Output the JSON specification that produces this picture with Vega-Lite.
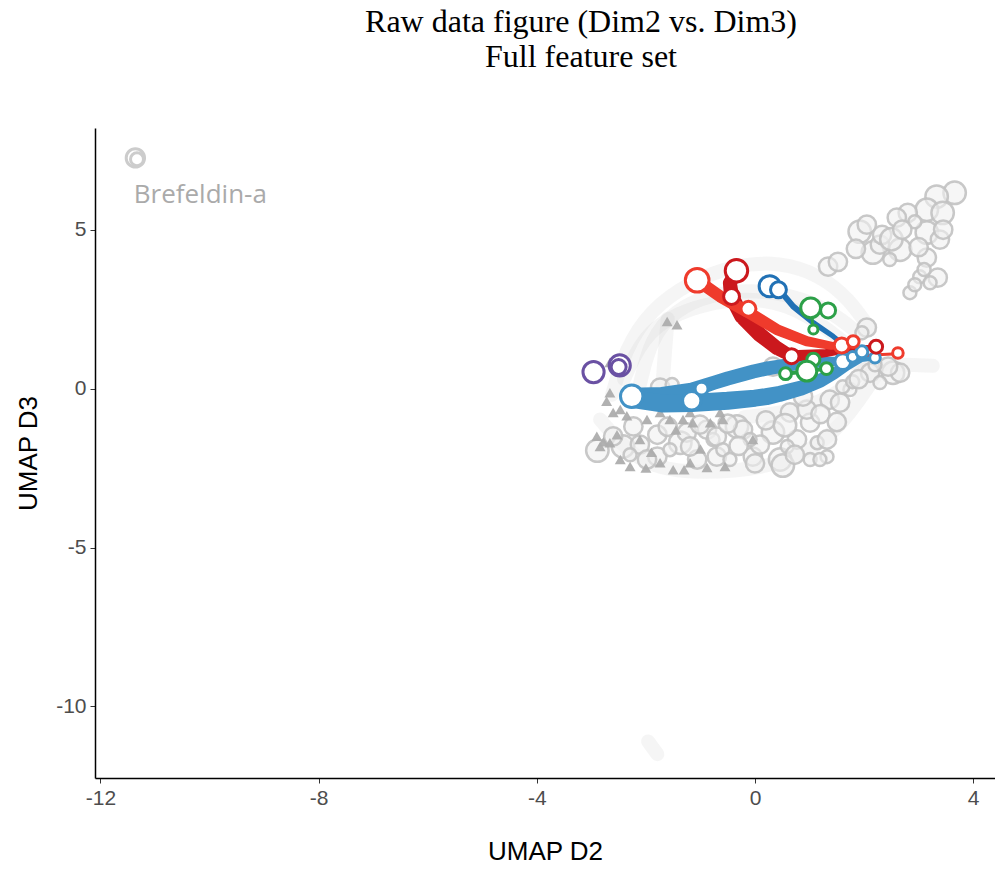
{
  "$schema": "https://vega.github.io/schema/vega-lite/v6.json",
  "width": 900,
  "height": 650,
  "autosize": {"type": "none"},
  "padding": {"left": 95, "top": 128, "right": 0, "bottom": 91},
  "background": "white",
  "title": {
    "text": ["Raw data figure (Dim2 vs. Dim3)", "Full feature set"],
    "font": "Liberation Serif",
    "fontSize": 32,
    "fontWeight": "normal",
    "color": "#000000",
    "lineHeight": 35,
    "anchor": "middle",
    "frame": "group",
    "dx": 36,
    "offset": 54
  },
  "config": {
    "view": {"stroke": null},
    "axis": {"grid": false, "labelFont": "Liberation Sans", "titleFont": "Liberation Sans"}
  },
  "datasets": {
    "arcs": [
      {"path": "A1", "i": 1, "x": -2.62, "y": -0.19},
      {"path": "A1", "i": 2, "x": -2.38, "y": 1.23},
      {"path": "A1", "i": 3, "x": -1.92, "y": 2.48},
      {"path": "A1", "i": 4, "x": -1.19, "y": 3.36},
      {"path": "A1", "i": 5, "x": -0.37, "y": 3.9},
      {"path": "A1", "i": 6, "x": 0.46, "y": 3.99},
      {"path": "A1", "i": 7, "x": 1.19, "y": 3.58},
      {"path": "A1", "i": 8, "x": 1.74, "y": 2.8},
      {"path": "A1", "i": 9, "x": 2.11, "y": 1.86},
      {"path": "A2", "i": 1, "x": -2.11, "y": 0.13},
      {"path": "A2", "i": 2, "x": -1.92, "y": 1.54},
      {"path": "A2", "i": 3, "x": -1.47, "y": 2.48},
      {"path": "A2", "i": 4, "x": -0.82, "y": 2.96},
      {"path": "A2", "i": 5, "x": -0.09, "y": 3.11},
      {"path": "A2", "i": 6, "x": 0.64, "y": 2.96},
      {"path": "A2", "i": 7, "x": 1.37, "y": 2.48},
      {"path": "A2", "i": 8, "x": 1.92, "y": 1.7},
      {"path": "A3", "i": 1, "x": -2.84, "y": -0.97},
      {"path": "A3", "i": 2, "x": -2.11, "y": -2.45},
      {"path": "A3", "i": 3, "x": -1.01, "y": -2.7},
      {"path": "A3", "i": 4, "x": 0.46, "y": -2.45},
      {"path": "A3", "i": 5, "x": 1.37, "y": -1.6},
      {"path": "A3", "i": 6, "x": 1.92, "y": -0.35},
      {"path": "A3", "i": 7, "x": 2.29, "y": 0.6},
      {"path": "A4", "i": 1, "x": 1.8, "y": 0.8},
      {"path": "A4", "i": 2, "x": 2.4, "y": 0.78},
      {"path": "A4", "i": 3, "x": 3.26, "y": 0.72},
      {"path": "A5", "i": 1, "x": -1.7, "y": 0.0},
      {"path": "A5", "i": 2, "x": -1.65, "y": 1.2},
      {"path": "A5", "i": 3, "x": -1.6, "y": 2.2},
      {"path": "A6", "i": 1, "x": -1.96, "y": -11.1},
      {"path": "A6", "i": 2, "x": -1.79, "y": -11.5},
      {"path": "A7", "i": 1, "x": -2.4, "y": 0.3},
      {"path": "A7", "i": 2, "x": -2.0, "y": 1.9},
      {"path": "A7", "i": 3, "x": -1.0, "y": 2.7},
      {"path": "A7", "i": 4, "x": 0.2, "y": 2.9},
      {"path": "A7", "i": 5, "x": 1.0, "y": 2.3},
      {"path": "A7", "i": 6, "x": 1.6, "y": 1.5},
      {"path": "A8", "i": 1, "x": -0.2, "y": -0.9},
      {"path": "A8", "i": 2, "x": 0.8, "y": -0.7},
      {"path": "A8", "i": 3, "x": 1.6, "y": -0.1},
      {"path": "A8", "i": 4, "x": 2.0, "y": 0.6}
    ],
    "tri": [
      {"x": -2.66, "y": -0.13}, {"x": -2.6, "y": -0.75}, {"x": -2.47, "y": -0.66},
      {"x": -2.78, "y": -1.67}, {"x": -2.84, "y": -1.82}, {"x": -2.66, "y": -1.7},
      {"x": -2.53, "y": -1.45}, {"x": -1.98, "y": -0.97}, {"x": -1.74, "y": -0.75},
      {"x": -1.56, "y": -0.97}, {"x": -1.32, "y": -0.97}, {"x": -1.19, "y": -0.75},
      {"x": -1.14, "y": -1.07}, {"x": -1.5, "y": -2.55}, {"x": -1.74, "y": -2.33},
      {"x": -0.88, "y": -2.48}, {"x": -1.19, "y": -2.33}, {"x": -2.47, "y": -2.23},
      {"x": -2.29, "y": -2.45}, {"x": -0.82, "y": -1.07}, {"x": -0.59, "y": -0.97},
      {"x": -0.64, "y": -0.75}, {"x": -0.04, "y": -1.6}, {"x": -2.11, "y": -1.6},
      {"x": -1.61, "y": 2.11}, {"x": -1.43, "y": 2.01}, {"x": -2.66, "y": 0.82},
      {"x": -1.9, "y": -2.0}, {"x": -1.0, "y": -1.9}, {"x": -2.72, "y": -0.4},
      {"x": -2.35, "y": -0.85}, {"x": -2.0, "y": -2.5}, {"x": -1.3, "y": -2.55},
      {"x": -0.55, "y": -2.45}, {"x": -2.9, "y": -1.5}, {"x": -1.45, "y": -1.3}
    ],
    "grey": [
      {"x": 3.66, "y": 6.16, "n": 9}, {"x": 3.33, "y": 6.04, "n": 9}, {"x": 3.15, "y": 5.63, "n": 9},
      {"x": 3.44, "y": 5.53, "n": 9}, {"x": 2.8, "y": 5.53, "n": 6}, {"x": 2.6, "y": 5.38, "n": 6},
      {"x": 1.92, "y": 4.94, "n": 9}, {"x": 2.05, "y": 5.16, "n": 6}, {"x": 2.16, "y": 4.28, "n": 9},
      {"x": 2.29, "y": 4.53, "n": 6}, {"x": 2.66, "y": 4.37, "n": 9}, {"x": 3.15, "y": 4.91, "n": 9},
      {"x": 3.39, "y": 4.69, "n": 6}, {"x": 3.15, "y": 4.12, "n": 6}, {"x": 2.47, "y": 4.06, "n": 3},
      {"x": 3.35, "y": 3.49, "n": 6}, {"x": 3.02, "y": 3.52, "n": 3}, {"x": 2.84, "y": 3.02, "n": 3},
      {"x": 2.93, "y": 3.27, "n": 3}, {"x": 3.21, "y": 3.33, "n": 3}, {"x": 1.34, "y": 3.84, "n": 6},
      {"x": 1.52, "y": 3.99, "n": 6}, {"x": 2.33, "y": 4.84, "n": 6}, {"x": 2.93, "y": 5.25, "n": 3},
      {"x": 2.5, "y": 4.7, "n": 9}, {"x": 3.0, "y": 4.45, "n": 6}, {"x": 3.45, "y": 5.0, "n": 6},
      {"x": 1.85, "y": 4.4, "n": 6}, {"x": 3.1, "y": 3.75, "n": 3}, {"x": 2.7, "y": 5.0, "n": 6},
      {"x": -1.74, "y": 0.03, "n": 6}, {"x": -1.52, "y": 0.13, "n": 3}, {"x": -2.23, "y": -1.19, "n": 6},
      {"x": -1.79, "y": -1.45, "n": 6}, {"x": -2.42, "y": -1.82, "n": 9}, {"x": -2.11, "y": -1.76, "n": 6},
      {"x": -1.79, "y": -2.14, "n": 6}, {"x": -1.37, "y": -1.7, "n": 9}, {"x": -1.25, "y": -1.38, "n": 6},
      {"x": -1.56, "y": -1.92, "n": 3}, {"x": -0.88, "y": -1.29, "n": 6}, {"x": -0.77, "y": -1.6, "n": 3},
      {"x": -1.06, "y": -2.23, "n": 6}, {"x": -2.29, "y": -2.08, "n": 3}, {"x": -1.98, "y": -2.23, "n": 6},
      {"x": -0.7, "y": -2.14, "n": 6}, {"x": -2.89, "y": -1.95, "n": 9}, {"x": -0.7, "y": -1.51, "n": 6},
      {"x": -0.33, "y": -1.19, "n": 9}, {"x": -0.22, "y": -1.29, "n": 6}, {"x": -0.04, "y": -2.14, "n": 6},
      {"x": 0.33, "y": -1.38, "n": 9}, {"x": 0.46, "y": -2.23, "n": 9}, {"x": 0.51, "y": -2.42, "n": 9},
      {"x": 0.77, "y": -1.6, "n": 6}, {"x": 1.01, "y": -1.07, "n": 6}, {"x": 1.14, "y": -1.7, "n": 3},
      {"x": 1.32, "y": -1.6, "n": 6}, {"x": 1.01, "y": -2.23, "n": 3}, {"x": 1.32, "y": -2.14, "n": 3},
      {"x": 0.64, "y": -0.75, "n": 6}, {"x": 0.95, "y": -0.66, "n": 6}, {"x": 1.37, "y": -0.35, "n": 6},
      {"x": 1.56, "y": -0.44, "n": 6}, {"x": 0.59, "y": -1.82, "n": 3}, {"x": -0.59, "y": -1.92, "n": 3},
      {"x": -0.46, "y": -2.23, "n": 3}, {"x": 0.09, "y": -1.76, "n": 6}, {"x": 0.73, "y": -2.08, "n": 6},
      {"x": 1.19, "y": -2.23, "n": 3}, {"x": 0.88, "y": -0.25, "n": 6}, {"x": 1.74, "y": -0.03, "n": 3},
      {"x": 2.53, "y": 0.5, "n": 9}, {"x": 2.66, "y": 0.5, "n": 6}, {"x": 2.11, "y": 0.5, "n": 6},
      {"x": 2.29, "y": 0.19, "n": 3}, {"x": 1.61, "y": 0.06, "n": 3}, {"x": 1.79, "y": 0.22, "n": 3},
      {"x": 2.05, "y": 1.92, "n": 6}, {"x": 1.96, "y": 1.76, "n": 3}, {"x": 2.44, "y": 0.69, "n": 6},
      {"x": 0.33, "y": 0.69, "n": 6}, {"x": -1.01, "y": -1.13, "n": 6}, {"x": -1.19, "y": -1.82, "n": 6},
      {"x": -0.09, "y": -1.6, "n": 3}, {"x": -2.6, "y": -1.5, "n": 6}, {"x": -1.6, "y": -1.2, "n": 6},
      {"x": -0.5, "y": -1.1, "n": 6}, {"x": 0.2, "y": -1.0, "n": 6}, {"x": 0.55, "y": -1.15, "n": 9},
      {"x": 1.2, "y": -0.8, "n": 6}, {"x": 1.5, "y": -1.05, "n": 6}, {"x": 0.0, "y": -2.35, "n": 6},
      {"x": -0.3, "y": -1.8, "n": 6}, {"x": 1.9, "y": 0.3, "n": 6}, {"x": 2.2, "y": 0.75, "n": 3}
    ],
    "trails": [
      {"path": "b1", "grp": "blueL", "i": 1, "x": -2.26, "y": -0.22, "w": 8},
      {"path": "b1", "grp": "blueL", "i": 2, "x": -1.7, "y": -0.2, "w": 8},
      {"path": "b1", "grp": "blueL", "i": 3, "x": -1.16, "y": -0.05, "w": 7.5},
      {"path": "b1", "grp": "blueL", "i": 4, "x": -0.76, "y": 0.18, "w": 7},
      {"path": "b1", "grp": "blueL", "i": 5, "x": -0.5, "y": 0.32, "w": 7},
      {"path": "b1", "grp": "blueL", "i": 6, "x": -0.03, "y": 0.54, "w": 7},
      {"path": "b1", "grp": "blueL", "i": 7, "x": 0.21, "y": 0.63, "w": 7},
      {"path": "b1", "grp": "blueL", "i": 8, "x": 0.76, "y": 0.79, "w": 6.5},
      {"path": "b1", "grp": "blueL", "i": 9, "x": 1.19, "y": 0.84, "w": 5.5},
      {"path": "b1", "grp": "blueL", "i": 10, "x": 1.61, "y": 0.87, "w": 4},
      {"path": "b1", "grp": "blueL", "i": 11, "x": 1.79, "y": 1.0, "w": 3},
      {"path": "b1", "grp": "blueL", "i": 12, "x": 1.96, "y": 1.16, "w": 2.5},
      {"path": "b2", "grp": "blueL", "i": 1, "x": -2.26, "y": -0.32, "w": 9},
      {"path": "b2", "grp": "blueL", "i": 2, "x": -1.68, "y": -0.47, "w": 9},
      {"path": "b2", "grp": "blueL", "i": 3, "x": -1.16, "y": -0.45, "w": 9},
      {"path": "b2", "grp": "blueL", "i": 4, "x": -0.5, "y": -0.38, "w": 9},
      {"path": "b2", "grp": "blueL", "i": 5, "x": 0.0, "y": -0.3, "w": 8.5},
      {"path": "b2", "grp": "blueL", "i": 6, "x": 0.21, "y": -0.25, "w": 8.5},
      {"path": "b2", "grp": "blueL", "i": 7, "x": 0.46, "y": -0.16, "w": 8},
      {"path": "b2", "grp": "blueL", "i": 8, "x": 0.85, "y": 0.02, "w": 7.5},
      {"path": "b2", "grp": "blueL", "i": 9, "x": 1.19, "y": 0.25, "w": 7},
      {"path": "b2", "grp": "blueL", "i": 10, "x": 1.45, "y": 0.48, "w": 6},
      {"path": "b2", "grp": "blueL", "i": 11, "x": 1.68, "y": 0.72, "w": 5},
      {"path": "b2", "grp": "blueL", "i": 12, "x": 1.96, "y": 0.95, "w": 3.5},
      {"path": "b2", "grp": "blueL", "i": 13, "x": 2.2, "y": 0.97, "w": 2.5},
      {"path": "bd", "grp": "blueD", "i": 1, "x": 0.27, "y": 3.22, "w": 3},
      {"path": "bd", "grp": "blueD", "i": 2, "x": 0.45, "y": 3.1, "w": 3},
      {"path": "bd", "grp": "blueD", "i": 3, "x": 0.7, "y": 2.59, "w": 3},
      {"path": "bd", "grp": "blueD", "i": 4, "x": 1.07, "y": 2.07, "w": 2.8},
      {"path": "bd", "grp": "blueD", "i": 5, "x": 1.43, "y": 1.65, "w": 2.5},
      {"path": "bd", "grp": "blueD", "i": 6, "x": 1.61, "y": 1.4, "w": 2.5},
      {"path": "bd", "grp": "blueD", "i": 7, "x": 1.79, "y": 1.2, "w": 2},
      {"path": "rd", "grp": "redD", "i": 1, "x": -0.34, "y": 3.71, "w": 6.5},
      {"path": "rd", "grp": "redD", "i": 2, "x": -0.46, "y": 3.32, "w": 7},
      {"path": "rd", "grp": "redD", "i": 3, "x": -0.43, "y": 2.9, "w": 7.5},
      {"path": "rd", "grp": "redD", "i": 4, "x": -0.24, "y": 2.27, "w": 7.5},
      {"path": "rd", "grp": "redD", "i": 5, "x": 0.09, "y": 1.7, "w": 7.5},
      {"path": "rd", "grp": "redD", "i": 6, "x": 0.4, "y": 1.28, "w": 7},
      {"path": "rd", "grp": "redD", "i": 7, "x": 0.67, "y": 1.02, "w": 6},
      {"path": "rd", "grp": "redD", "i": 8, "x": 1.31, "y": 1.12, "w": 4},
      {"path": "rd", "grp": "redD", "i": 9, "x": 1.8, "y": 1.25, "w": 3},
      {"path": "rd", "grp": "redD", "i": 10, "x": 2.2, "y": 1.31, "w": 2.5},
      {"path": "r1", "grp": "red", "i": 1, "x": -1.06, "y": 3.41, "w": 6},
      {"path": "r1", "grp": "red", "i": 2, "x": -0.64, "y": 2.9, "w": 6},
      {"path": "r1", "grp": "red", "i": 3, "x": -0.15, "y": 2.43, "w": 6},
      {"path": "r1", "grp": "red", "i": 4, "x": 0.4, "y": 1.86, "w": 5.5},
      {"path": "r1", "grp": "red", "i": 5, "x": 0.95, "y": 1.49, "w": 5},
      {"path": "r1", "grp": "red", "i": 6, "x": 1.4, "y": 1.35, "w": 4},
      {"path": "r1", "grp": "red", "i": 7, "x": 1.59, "y": 1.36, "w": 3.5},
      {"path": "r1", "grp": "red", "i": 8, "x": 1.8, "y": 1.48, "w": 2.5},
      {"path": "r2", "grp": "red", "i": 1, "x": 2.05, "y": 1.05, "w": 1.5},
      {"path": "r2", "grp": "red", "i": 2, "x": 2.62, "y": 1.1, "w": 1.5},
      {"path": "g1", "grp": "green", "i": 1, "x": 1.02, "y": 2.54, "w": 1.5},
      {"path": "g1", "grp": "green", "i": 2, "x": 1.07, "y": 1.86, "w": 1.5},
      {"path": "g2", "grp": "green", "i": 1, "x": 0.56, "y": 0.47, "w": 2},
      {"path": "g2", "grp": "green", "i": 2, "x": 0.95, "y": 0.55, "w": 2},
      {"path": "g2", "grp": "green", "i": 3, "x": 1.31, "y": 0.63, "w": 2}
    ],
    "circles": [
      {"grp": "blueL", "x": -2.26, "y": -0.24, "n": 9},
      {"grp": "blueL", "x": -1.16, "y": -0.38, "n": 6},
      {"grp": "blueL", "x": -0.98, "y": 0.0, "n": 3},
      {"grp": "blueL", "x": 1.61, "y": 0.85, "n": 4.5},
      {"grp": "blueL", "x": 1.79, "y": 1.0, "n": 2},
      {"grp": "blueL", "x": 1.96, "y": 1.16, "n": 2.5},
      {"grp": "blueL", "x": 2.2, "y": 0.97, "n": 2},
      {"grp": "blueD", "x": 0.27, "y": 3.22, "n": 8},
      {"grp": "blueD", "x": 0.43, "y": 3.11, "n": 4.5},
      {"grp": "redD", "x": -0.34, "y": 3.71, "n": 9},
      {"grp": "redD", "x": -0.43, "y": 2.9, "n": 4.5},
      {"grp": "redD", "x": 0.67, "y": 1.02, "n": 4},
      {"grp": "redD", "x": 2.22, "y": 1.32, "n": 3},
      {"grp": "red", "x": -1.06, "y": 3.41, "n": 10},
      {"grp": "red", "x": -0.12, "y": 2.51, "n": 4},
      {"grp": "red", "x": 1.59, "y": 1.36, "n": 4},
      {"grp": "red", "x": 1.8, "y": 1.48, "n": 2.5},
      {"grp": "red", "x": 2.62, "y": 1.12, "n": 2},
      {"grp": "green", "x": 1.02, "y": 2.54, "n": 7},
      {"grp": "green", "x": 1.34, "y": 2.46, "n": 4},
      {"grp": "green", "x": 1.07, "y": 1.86, "n": 1.5},
      {"grp": "green", "x": 1.07, "y": 0.91, "n": 3},
      {"grp": "green", "x": 0.56, "y": 0.47, "n": 2.5},
      {"grp": "green", "x": 1.31, "y": 0.63, "n": 2.5},
      {"grp": "green", "x": 0.95, "y": 0.55, "n": 7},
      {"grp": "purple", "x": -2.96, "y": 0.52, "n": 8},
      {"grp": "purple", "x": -2.48, "y": 0.73, "n": 8},
      {"grp": "purple", "x": -2.5, "y": 0.68, "n": 4},
      {"grp": "brefeldin", "x": -11.36, "y": 7.26, "n": 6},
      {"grp": "brefeldin", "x": -11.33, "y": 7.22, "n": 3}
    ],
    "labels": [
      {"x": -11.39, "y": 6.1, "label": "Brefeldin-a"}
    ]
  },
  "resolve": {"scale": {"size": "independent"}},
  "layer": [
    {
      "data": {"name": "arcs"},
      "mark": {"type": "line", "interpolate": "basis", "strokeWidth": 14, "color": "#cfcfcf", "opacity": 0.2, "strokeCap": "round"},
      "encoding": {
        "x": {"field": "x", "type": "quantitative", "scale": {"domain": [-12.1, 4.4], "nice": false, "zero": false},
          "axis": {"values": [-12, -8, -4, 0, 4], "labelExpr": "'' + datum.value", "title": "UMAP D2", "titleFontSize": 26, "titleFontWeight": "normal", "titleColor": "#000000", "titlePadding": 30,
            "labelFontSize": 21, "labelColor": "#4d4d4d", "labelPadding": 4, "tickColor": "#333333", "tickSize": 5, "tickWidth": 1, "domainColor": "#000000", "domainWidth": 1.5}},
        "y": {"field": "y", "type": "quantitative", "scale": {"domain": [-12.25, 8.2], "nice": false, "zero": false},
          "axis": {"values": [-10, -5, 0, 5], "labelExpr": "'' + datum.value", "title": "UMAP D3", "titleFontSize": 26, "titleFontWeight": "normal", "titleColor": "#000000", "titlePadding": 14,
            "labelFontSize": 21, "labelColor": "#4d4d4d", "labelPadding": 4, "tickColor": "#333333", "tickSize": 5, "tickWidth": 1, "domainColor": "#000000", "domainWidth": 1.5}},
        "detail": {"field": "path"},
        "order": {"field": "i"}
      }
    },
    {
      "mark": {"type": "rule", "color": "#cccccc", "strokeWidth": 1.5},
      "encoding": {"x": {"datum": 0, "type": "quantitative"}}
    },
    {
      "mark": {"type": "rule", "color": "#cccccc", "strokeWidth": 1.5},
      "encoding": {"y": {"datum": 0, "type": "quantitative"}}
    },
    {
      "data": {"name": "grey"},
      "mark": {"type": "point", "shape": "circle", "filled": false, "fill": "#f0f0f0", "fillOpacity": 0.6, "stroke": "#c2c2c2", "strokeOpacity": 0.9, "strokeWidth": 2.5},
      "encoding": {
        "x": {"field": "x", "type": "quantitative"},
        "y": {"field": "y", "type": "quantitative"},
        "size": {"field": "n", "type": "quantitative", "scale": {"domain": [0, 10], "range": [0, 560]}, "legend": null}
      }
    },
    {
      "data": {"name": "tri"},
      "mark": {"type": "point", "shape": "triangle-up", "filled": true, "color": "#adadad", "opacity": 0.95, "size": 120},
      "encoding": {
        "x": {"field": "x", "type": "quantitative"},
        "y": {"field": "y", "type": "quantitative"}
      }
    },
    {
      "data": {"name": "trails"},
      "mark": {"type": "trail", "opacity": 1},
      "encoding": {
        "x": {"field": "x", "type": "quantitative"},
        "y": {"field": "y", "type": "quantitative"},
        "detail": {"field": "path"},
        "order": {"field": "i"},
        "color": {"field": "grp", "type": "nominal", "legend": null,
          "scale": {"domain": ["blueL", "blueD", "redD", "red", "green", "purple", "brefeldin"], "range": ["#4292c6", "#2171b5", "#cb181d", "#ef3b2c", "#2ca048", "#6a51a3", "#cccccc"]}},
        "size": {"field": "w", "type": "quantitative", "scale": {"domain": [0, 10], "range": [0, 20]}, "legend": null}
      }
    },
    {
      "data": {"name": "circles"},
      "mark": {"type": "point", "shape": "circle", "filled": false, "fill": "#ffffff", "strokeWidth": 3, "opacity": 1},
      "encoding": {
        "x": {"field": "x", "type": "quantitative"},
        "y": {"field": "y", "type": "quantitative"},
        "stroke": {"field": "grp", "type": "nominal", "legend": null,
          "scale": {"domain": ["blueL", "blueD", "redD", "red", "green", "purple", "brefeldin"], "range": ["#4292c6", "#2171b5", "#cb181d", "#ef3b2c", "#2ca048", "#6a51a3", "#cccccc"]}},
        "size": {"field": "n", "type": "quantitative", "scale": {"domain": [0, 10], "range": [0, 560]}, "legend": null}
      }
    },
    {
      "data": {"name": "labels"},
      "mark": {"type": "text", "align": "left", "baseline": "middle", "font": "Open Sans", "fontSize": 26, "color": "#aaaaaa"},
      "encoding": {
        "x": {"field": "x", "type": "quantitative"},
        "y": {"field": "y", "type": "quantitative"},
        "text": {"field": "label"}
      }
    }
  ]
}
